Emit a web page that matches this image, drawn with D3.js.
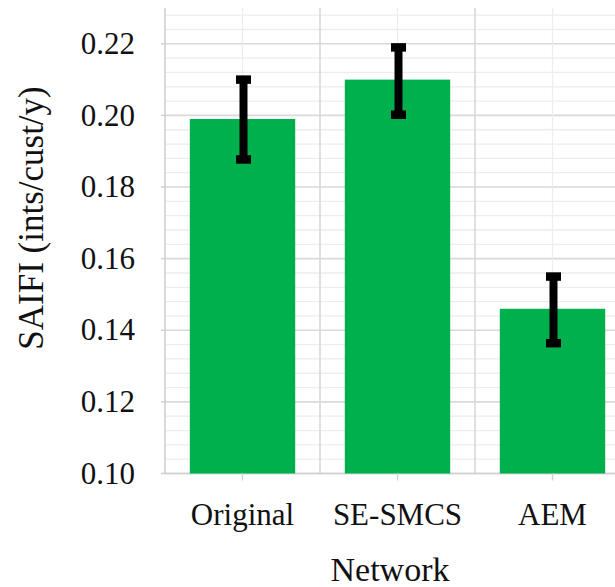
<!DOCTYPE html>
<html>
<head>
<meta charset="utf-8">
<script src="https://cdn.jsdelivr.net/npm/d3@7"></script>
<style>
  body { margin: 0; background: #fff; }
  svg { display: block; }
</style>
</head>
<body>
<svg id="chart" width="615" height="587"></svg>
<script>
// data
const networks = ["Original", "SE-SMCS", "AEM"];
const saifi = [0.199, 0.210, 0.146];
const errLow = [0.1877, 0.2002, 0.1364];
const errHigh = [0.2100, 0.2190, 0.1550];
const yTicks = [0.10, 0.12, 0.14, 0.16, 0.18, 0.20, 0.22];

const data = networks.map((n, i) => ({ name: n, value: saifi[i], lo: errLow[i], hi: errHigh[i] }));

const font = "'Liberation Serif', 'DejaVu Serif', serif";
const svg = d3.select("#chart");
const plotLeft = 165, plotRight = 630, plotTop = 8, plotBottom = 473.5;

const x = d3.scaleBand()
  .domain(networks)
  .range([plotLeft, plotRight])
  .paddingInner(0.32)
  .paddingOuter(0.16);

const step = x.step();

const y = d3.scaleLinear()
  .domain([0.10, 0.23])
  .range([plotBottom, plotTop]);

// minor horizontal gridlines every 0.004
const minor = d3.range(0.104, 0.2301, 0.004).filter(v => Math.abs(v * 50 - Math.round(v * 50)) > 1e-6);
svg.selectAll(".minor-h")
  .data(minor)
  .join("line")
  .attr("x1", plotLeft).attr("x2", plotRight)
  .attr("y1", d => y(d)).attr("y2", d => y(d))
  .attr("stroke", "#ededed")
  .attr("stroke-width", 1.3);

svg.selectAll(".major-h")
  .data(yTicks)
  .join("line")
  .attr("x1", plotLeft).attr("x2", plotRight)
  .attr("y1", d => y(d)).attr("y2", d => y(d))
  .attr("stroke", "#d9d9d9")
  .attr("stroke-width", 1.6);

// vertical gridlines: light at category centres, darker at band boundaries
svg.selectAll(".centre-v")
  .data(networks)
  .join("line")
  .attr("x1", d => x(d) + x.bandwidth() / 2)
  .attr("x2", d => x(d) + x.bandwidth() / 2)
  .attr("y1", plotTop).attr("y2", plotBottom)
  .attr("stroke", "#ededed")
  .attr("stroke-width", 1.3);

svg.selectAll(".bound-v")
  .data(networks.slice(1))
  .join("line")
  .attr("x1", d => x(d) + x.bandwidth() / 2 - step / 2)
  .attr("x2", d => x(d) + x.bandwidth() / 2 - step / 2)
  .attr("y1", plotTop).attr("y2", plotBottom)
  .attr("stroke", "#d9d9d9")
  .attr("stroke-width", 1.6);

// panel border (left and bottom)
svg.append("line")
  .attr("x1", plotLeft).attr("x2", plotLeft)
  .attr("y1", plotTop).attr("y2", plotBottom)
  .attr("stroke", "#d0d0d0").attr("stroke-width", 1.6);
svg.append("line")
  .attr("x1", plotLeft).attr("x2", plotRight)
  .attr("y1", plotBottom).attr("y2", plotBottom)
  .attr("stroke", "#d0d0d0").attr("stroke-width", 1.6);

// bars
svg.selectAll(".bar")
  .data(data)
  .join("rect")
  .attr("x", d => x(d.name))
  .attr("width", x.bandwidth())
  .attr("y", d => y(d.value))
  .attr("height", d => y(0.10) - y(d.value))
  .attr("fill", "#00B04C");

// error bars
const cap = 7.5;
const eb = svg.selectAll(".err")
  .data(data)
  .join("g")
  .attr("transform", d => `translate(${x(d.name) + x.bandwidth() / 2 + 1},0)`);
eb.append("line")
  .attr("x1", 0).attr("x2", 0)
  .attr("y1", d => y(d.hi)).attr("y2", d => y(d.lo))
  .attr("stroke", "#000").attr("stroke-width", 8);
eb.append("line")
  .attr("x1", -cap).attr("x2", cap)
  .attr("y1", d => y(d.hi)).attr("y2", d => y(d.hi))
  .attr("stroke", "#000").attr("stroke-width", 8.5);
eb.append("line")
  .attr("x1", -cap).attr("x2", cap)
  .attr("y1", d => y(d.lo)).attr("y2", d => y(d.lo))
  .attr("stroke", "#000").attr("stroke-width", 8.5);

// y tick labels
svg.selectAll(".ytick")
  .data(yTicks)
  .join("text")
  .attr("x", 135)
  .attr("y", d => y(d))
  .attr("dy", "0.33em")
  .attr("text-anchor", "end")
  .attr("font-family", font)
  .attr("font-size", 31)
  .attr("fill", "#111")
  .text(d => d3.format(".2f")(d));

svg.selectAll(".ytickmark")
  .data(yTicks)
  .join("line")
  .attr("x1", plotLeft - 4).attr("x2", plotLeft)
  .attr("y1", d => y(d)).attr("y2", d => y(d))
  .attr("stroke", "#d0d0d0").attr("stroke-width", 1.4);

// x ticks and labels
svg.selectAll(".xtickmark")
  .data(networks)
  .join("line")
  .attr("x1", d => x(d) + x.bandwidth() / 2)
  .attr("x2", d => x(d) + x.bandwidth() / 2)
  .attr("y1", plotBottom).attr("y2", plotBottom + 7)
  .attr("stroke", "#d0d0d0").attr("stroke-width", 1.4);

svg.selectAll(".xtick")
  .data(networks)
  .join("text")
  .attr("x", d => x(d) + x.bandwidth() / 2)
  .attr("y", 525)
  .attr("text-anchor", "middle")
  .attr("font-family", font)
  .attr("font-size", 31)
  .attr("fill", "#111")
  .text(d => d);

// axis titles
svg.append("text")
  .attr("x", 390)
  .attr("y", 581)
  .attr("text-anchor", "middle")
  .attr("font-family", font)
  .attr("font-size", 34)
  .attr("fill", "#111")
  .text("Network");

svg.append("text")
  .attr("transform", "translate(43,218) rotate(-90)")
  .attr("text-anchor", "middle")
  .attr("font-family", font)
  .attr("font-size", 35)
  .attr("fill", "#111")
  .text("SAIFI (ints/cust/y)");
</script>
</body>
</html>
